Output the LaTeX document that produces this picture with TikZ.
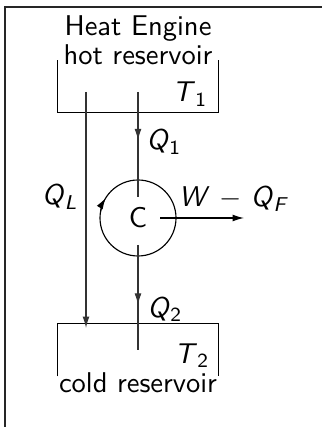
\documentclass[tikz,border=0pt]{standalone}
\usepackage{amsmath}
\usetikzlibrary{arrows.meta,decorations.markings}
\newcommand\vsym[2]{\textsl{#1}$_{\textsf{#2}}$}
\begin{document}
\begin{tikzpicture}[x=0.35pt,y=0.35pt, font=\sffamily,
  lbl/.style={inner sep=0pt, anchor=base},
  tipped/.style={-{Latex[length=4pt,width=2.4pt]}},
  conn/.style={draw=black!80},
  midarrow/.style={postaction=decorate, decoration={markings,
      mark=at position #1 with {\arrow{Latex[length=4pt,width=2.4pt]}}}},
  res/.style={inner sep=0pt, minimum width=56pt, minimum height=18pt},
]
\useasboundingbox (0,0) rectangle (322,-427);
% frame
\draw[line width=0.6pt, black!85] (5,-427) -- (5,-7) -- (322,-7);
% titles
\node[lbl] (title) at (138,-36) {Heat Engine};
\node[lbl] (hotlbl) at (138,-65) {hot reservoir};
% hot reservoir (open at the top)
\node[res] (hot) at (138,-86.5) {};
\draw (hot.north west) -- (hot.south west) -- (hot.south east) -- (hot.north east);
\node[lbl] (T1) at (190,-102) {\vsym{T}{1}};
% cold reservoir (open at the bottom)
\node[res] (cold) at (138,-350) {};
\draw (cold.south west) -- (cold.north west) -- (cold.north east) -- (cold.south east);
\node[lbl] (T2) at (192,-363) {\vsym{T}{2}};
\node[lbl] (coldlbl) at (138,-392) {cold reservoir};
% cycle
\node[circle, draw, inner sep=0pt, minimum size=26.6pt, outer sep=0pt] (C) at (138,-218) {C};
\coordinate (cycstart) at (100.6,-211.4);
\draw[tipped] (cycstart) arc[start angle=170, end angle=148, radius=38];
% connector end points
\coordinate (h1) at (138,-92);
\coordinate (c1) at (138,-197);
\coordinate (c2) at (138,-245);
\coordinate (k1) at (138,-350);
\coordinate (l1) at (86,-92);
\coordinate (l2) at (86,-328);
\coordinate (w1) at (160,-218);
\coordinate (w2) at (244,-218);
% connectors
\draw[conn, midarrow=0.46] (h1) -- (c1);
\draw[conn, midarrow=0.57] (c2) -- (k1);
\draw[conn, tipped] (l1) -- (l2);
\draw[tipped] (w1) -- (w2);
% labels
\node[lbl] (Q1) at (164,-150) {\vsym{Q}{1}};
\node[lbl] (Q2) at (165,-317) {\vsym{Q}{2}};
\node[lbl] (QL) at (60,-205) {\textsl{Q}$_{\textsl{L}}$};
\node[lbl] (W) at (233,-207) {\textsl{W} $-$ \textsl{Q}$_{\textsl{F}}$};
\end{tikzpicture}
\end{document}
